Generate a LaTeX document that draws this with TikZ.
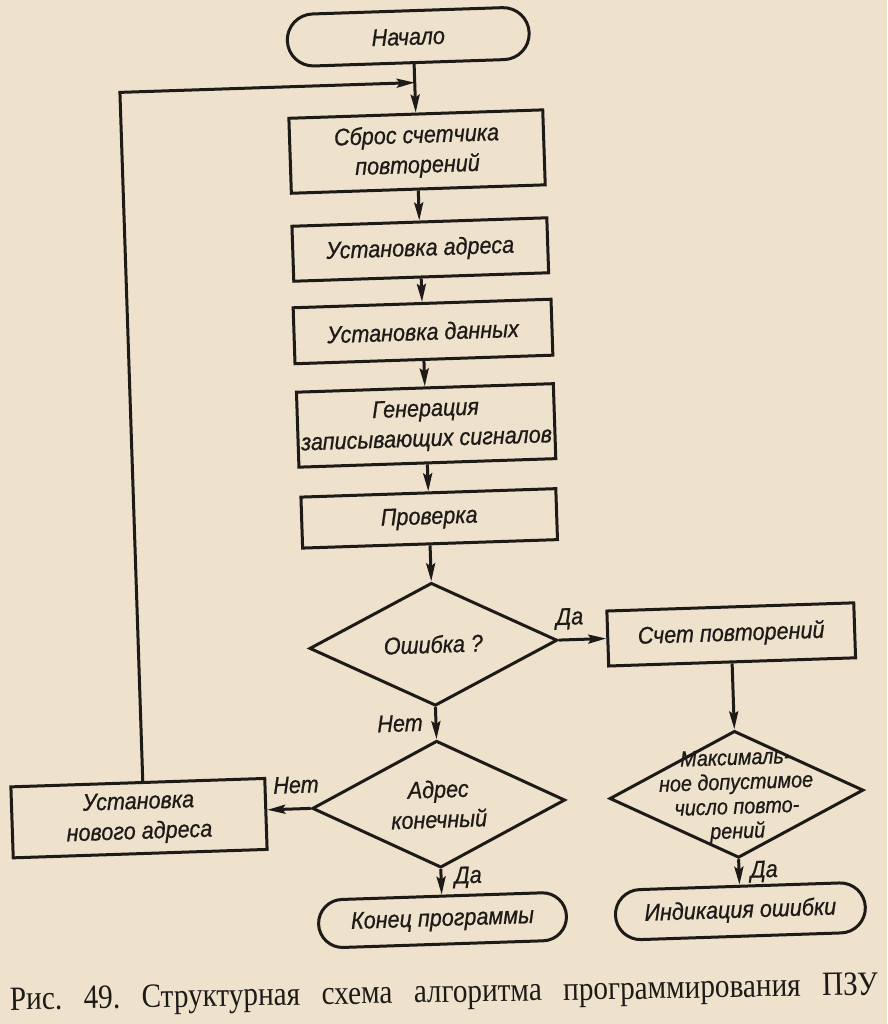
\documentclass[tikz,border=0pt]{standalone}
\usepackage{fontspec}
\setmainfont{Liberation Serif}
\newfontfamily\hand{Liberation Sans}[FakeStretch=0.9,FakeBold=0.8]
\newfontfamily\capfont{Liberation Serif}[FakeStretch=0.86]
\usetikzlibrary{shapes.geometric,shapes.misc,arrows.meta}
\definecolor{paper}{RGB}{238,226,204}
\definecolor{ink}{RGB}{30,26,24}
\begin{document}
\begin{tikzpicture}[x=1pt,y=-1pt,
  txt/.style={font=\hand\itshape\fontsize{24}{30}\selectfont, text=ink, align=center, inner sep=0pt},
  proc/.style={txt, draw=ink, line width=3pt, rectangle},
  term/.style={txt, draw=ink, line width=3pt, rounded rectangle},
  dec/.style={draw=ink, line width=3pt, diamond, inner sep=0pt},
  conn/.style={draw=ink, line width=3pt, -{Stealth[length=18pt,width=9pt,inset=3pt]}},
  capt/.style={font=\capfont\fontsize{34}{36}\selectfont, text=ink, inner sep=0pt}
]
\path[use as bounding box, fill=paper] (0,0) rectangle (887,1024);
\begin{scope}[rotate around={1.9:(440,512)}, transform shape]
  \node[term, minimum width=242pt, minimum height=52pt] (start) at (424,36) {Начало};
  \node[proc, minimum width=254pt, minimum height=75pt] (reset) at (429,151) {Сброс счетчика\\повторений};
  \node[proc, minimum width=255pt, minimum height=55pt] (addr) at (429,249) {Установка адреса};
  \node[proc, minimum width=258pt, minimum height=56pt] (data) at (429,331) {Установка данных};
  \node[proc, minimum width=257pt, minimum height=75pt] (gen) at (429,425) {Генерация\\записывающих сигналов};
  \node[proc, minimum width=255pt, minimum height=51pt] (check) at (429,518) {Проверка};
  \node[dec, minimum width=248pt, minimum height=123pt] (err) at (429,644) {};
  \node[txt] at (err) {Ошибка ?};
  \node[proc, minimum width=247pt, minimum height=55pt] (cnt) at (727,644) {Счет повторений};
  \node[dec, minimum width=254pt, minimum height=127pt] (maxd) at (727,804) {};
  \node[txt, font=\hand\itshape\fontsize{22}{24.5}\selectfont] at ([yshift=-2pt]maxd) {Максималь-\\ное допустимое\\число повто-\\рений};
  \node[term, minimum width=250pt, minimum height=50pt] (ind) at (727,921) {Индикация ошибки};
  \node[dec, minimum width=253pt, minimum height=127pt] (adrd) at (429,804) {};
  \node[txt] at (adrd) {Адрес\\конечный};
  \node[term, minimum width=248pt, minimum height=48pt] (end) at (429,920) {Конец программы};
  \node[proc, minimum width=254pt, minimum height=71pt] (newad) at (129,808) {Установка\\нового адреса};
  \coordinate (j) at (429,82);
  \draw[conn] (start.south -| reset.north) -- (reset.north);
  \draw[conn] (reset) -- (addr);
  \draw[conn] (addr) -- (data);
  \draw[conn] (data) -- (gen);
  \draw[conn] (gen) -- (check);
  \draw[conn] (check) -- (err.north);
  \draw[conn] (err.east) -- (cnt.west);
  \draw[conn] (err.south) -- (adrd.north);
  \draw[conn] (cnt) -- (maxd.north);
  \draw[conn] (maxd.south) -- (ind.north);
  \draw[conn] (adrd.south) -- (end.north);
  \draw[conn] (adrd.west) -- (adrd.west -| newad.east);
  \draw[conn] ([xshift=5pt]newad.north) |- (j);
  \node[txt] (l1) at (566,623) {Да};
  \node[txt] (l2) at (393,722) {Нет};
  \node[txt] (l3) at (287,780) {Нет};
  \node[txt] (l4) at (456,878) {Да};
  \node[txt] (l5) at (752,882) {Да};
\end{scope}
\node[capt, anchor=base west, rotate=1.0] (cap) at (10,1010) {\frenchspacing\makebox[868pt][s]{Рис. 49. Структурная схема алгоритма программирования ПЗУ}};
\end{tikzpicture}
\end{document}
